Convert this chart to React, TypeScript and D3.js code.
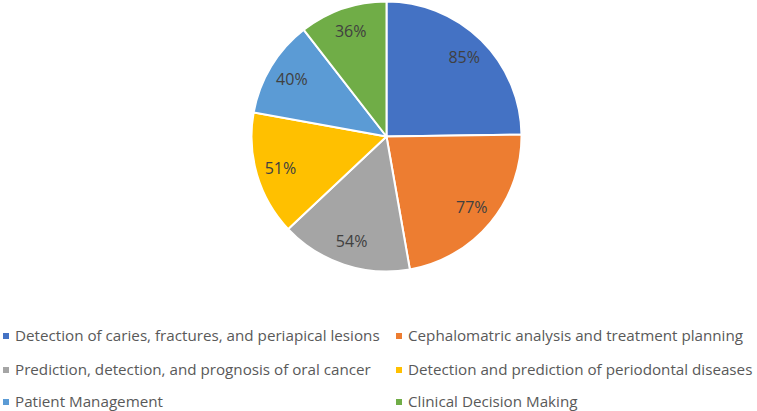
import React from "react";
import * as d3 from "d3";

const categories = [
  "Detection of caries, fractures, and periapical lesions",
  "Cephalomatric analysis and treatment planning",
  "Prediction, detection, and prognosis of oral cancer",
  "Detection and prediction of periodontal diseases",
  "Patient Management",
  "Clinical Decision Making",
];
const values = [85, 77, 54, 51, 40, 36];
const labels = ["85%", "77%", "54%", "51%", "40%", "36%"];
const colors = ["#4472C4", "#ED7D31", "#A5A5A5", "#FFC000", "#5B9BD5", "#70AD47"];

const W = 757;
const H = 411;
const cx = 386.5;
const cy = 136.5;
const R = 135;

export default function App() {
  const pie = d3.pie<number>().sort(null).value((d) => d);
  const arcs = pie(values);
  const arcGen = d3.arc<d3.PieArcDatum<number>>().innerRadius(0).outerRadius(R);
  const labelArc = d3.arc<d3.PieArcDatum<number>>().innerRadius(R * 0.82).outerRadius(R * 0.82);

  const colX = [3, 396];
  const rowY = [341, 375, 407];

  return (
    <svg
      width={W}
      height={H}
      style={{ position: "absolute", left: 0, top: 0 }}
      fontFamily="'Open Sans', sans-serif"
    >
      <rect width={W} height={H} fill="#fff" />
      <g transform={`translate(${cx},${cy})`}>
        {arcs.map((a, i) => (
          <path key={i} d={arcGen(a) || ""} fill={colors[i]} stroke="#fff" strokeWidth={2} strokeLinejoin="round" />
        ))}
        {arcs.map((a, i) => {
          const [x, y] = labelArc.centroid(a);
          return (
            <text key={i} x={x} y={y} dy="0.35em" textAnchor="middle" fontSize={16} fill="#404040">
              {labels[i]}
            </text>
          );
        })}
      </g>
      {categories.map((c, i) => {
        const col = i % 2;
        const row = Math.floor(i / 2);
        const x = colX[col];
        const y = rowY[row];
        return (
          <g key={i}>
            <rect x={x} y={y - 8} width={6} height={6} fill={colors[i]} />
            <text x={x + 12} y={y} fontSize={15.2} fill="#595959">
              {c}
            </text>
          </g>
        );
      })}
    </svg>
  );
}
